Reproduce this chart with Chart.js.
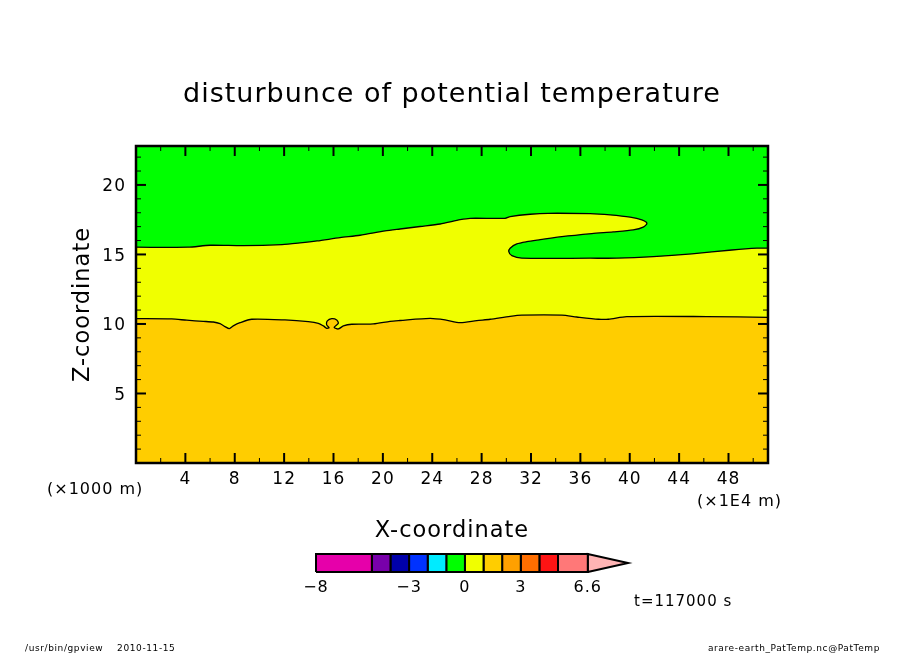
<!DOCTYPE html>
<html>
<head>
<meta charset="utf-8">
<title>disturbunce of potential temperature</title>
<script src="https://cdn.jsdelivr.net/npm/chart.js@4"></script>
<style>
  html, body { margin: 0; padding: 0; background: #fff; overflow: hidden; }
  #wrap { position: relative; width: 904px; height: 654px; }
  #main { position: absolute; left: 0; top: 0; }
  #bar { position: absolute; left: 290px; top: 540px; }
</style>
</head>
<body>
<div id="wrap">
  <canvas id="main" width="904" height="654"></canvas>
  <canvas id="bar" width="360" height="62"></canvas>
</div>
<script>
// Contour between the green and yellow bands (folds back on itself)
const upperX = [0, 4.21, 6.0, 8.67, 11.83, 13.29, 14.67, 16.53, 18.15, 20.18, 21.39, 23.01, 24.64, 26.26, 27.07, 29.9, 30.31, 31.93, 33.39, 36.79, 38.41, 40.03, 40.98, 41.39, 41.09, 40.28, 38.65, 36.93, 34.5, 32.74, 31.66, 30.85, 30.31, 30.2, 30.45, 31.26, 36.79, 38.95, 41.9, 45.03, 48.27, 50.3, 51.2];
const upperZ = [15.52, 15.52, 15.66, 15.63, 15.71, 15.83, 15.97, 16.21, 16.38, 16.69, 16.83, 17.01, 17.19, 17.5, 17.6, 17.6, 17.72, 17.89, 17.96, 17.93, 17.84, 17.68, 17.48, 17.24, 16.96, 16.76, 16.62, 16.5, 16.28, 16.06, 15.92, 15.76, 15.45, 15.2, 14.91, 14.73, 14.73, 14.73, 14.84, 15.04, 15.32, 15.45, 15.45];

// Contour between the yellow and orange bands (small curl near x=16)
const lowerX = [0, 2.89, 4.11, 5.45, 6.26, 6.81, 7.21, 7.56, 7.88, 8.43, 9.38, 12.07, 13.96, 14.77, 15.18, 15.45, 15.64, 15.45, 15.5, 15.86, 16.26, 16.39, 16.05, 16.39, 16.8, 17.48, 19.23, 20.58, 21.39, 23.82, 25.04, 26.26, 27.61, 28.69, 30.31, 31.26, 34.5, 35.71, 37.46, 38.27, 39.76, 46.25, 51.2];
const lowerZ = [10.38, 10.36, 10.27, 10.19, 10.14, 10.02, 9.81, 9.66, 9.86, 10.09, 10.34, 10.29, 10.17, 10.05, 9.86, 9.69, 9.73, 9.93, 10.22, 10.38, 10.29, 10.05, 9.76, 9.64, 9.86, 9.98, 10.0, 10.19, 10.25, 10.4, 10.29, 10.09, 10.24, 10.34, 10.55, 10.63, 10.63, 10.5, 10.34, 10.34, 10.53, 10.53, 10.48];

const xMax = 51.2;
const zMax = 22.8;
const xMajor = [4, 8, 12, 16, 20, 24, 28, 32, 36, 40, 44, 48];
const xMinor = [2, 6, 10, 14, 18, 22, 26, 30, 34, 38, 42, 46, 50];
const zMajor = [5, 10, 15, 20];
const zMinor = [1, 2, 3, 4, 6, 7, 8, 9, 11, 12, 13, 14, 16, 17, 18, 19, 21, 22];

// Colour bar
const levels = [-8, -5, -4, -3, -2, -1, 0, 1, 2, 3, 4, 5, 6.6];
const levelColors = ['#e600aa', '#7800aa', '#0000aa', '#0032ff', '#00ebff', '#00ff00', '#f0ff00', '#ffcd00', '#ffa000', '#ff6e00', '#ff1414', '#ff7878'];
const levelTicks = [-8, -3, 0, 3, 6.6];
const arrowTip = 8.76;
const arrowColor = '#ffb4b4';

const GREEN = '#00ff00';
const YELLOW = '#f0ff00';
const ORANGE = '#ffcd00';
const FONT = '"DejaVu Sans", sans-serif';
const CURVE = 0.25;

const toPoints = (xs, ys) => xs.map((x, i) => ({ x: x, y: ys[i] }));

// Close a contour down to the bottom of the plot. Doubled points keep the
// curve tension from bending the straight edges.
const downToBase = (points) => {
    const last = points[points.length - 1];
    const right = { x: xMax, y: 0 };
    const left = { x: 0, y: 0 };
    return points.concat([last, right, right, left, left, points[0]]);
};

const filled = (points, color, tension) => ({
    data: points, fill: 'shape', backgroundColor: color, tension: tension,
    borderWidth: 0, pointRadius: 0, showLine: true
});

const contour = (points) => ({
    data: points, fill: false, borderColor: '#000', borderWidth: 1.3, tension: CURVE,
    pointRadius: 0, showLine: true
});

// Ticks point inward on all four sides, frame goes on top
const framePlugin = {
    id: 'frame',
    afterDatasetsDraw(chart) {
        const ctx = chart.ctx;
        const a = chart.chartArea;
        const sx = chart.scales.x;
        const sz = chart.scales.y;
        const tick = (x1, y1, x2, y2, w) => {
            ctx.lineWidth = w;
            ctx.beginPath();
            ctx.moveTo(x1, y1);
            ctx.lineTo(x2, y2);
            ctx.stroke();
        };
        const xTicks = (vals, len, w) => vals.forEach(v => {
            const p = sx.getPixelForValue(v);
            tick(p, a.top, p, a.top + len, w);
            tick(p, a.bottom, p, a.bottom - len, w);
        });
        const zTicks = (vals, len, w) => vals.forEach(v => {
            const p = sz.getPixelForValue(v);
            tick(a.left, p, a.left + len, p, w);
            tick(a.right, p, a.right - len, p, w);
        });
        ctx.save();
        ctx.strokeStyle = '#000';
        xTicks(xMinor, 5, 1);
        zTicks(zMinor, 5, 1);
        xTicks(xMajor, 10, 2);
        zTicks(zMajor, 10, 2);
        ctx.lineWidth = 2.5;
        ctx.strokeRect(a.left, a.top, a.right - a.left, a.bottom - a.top);
        ctx.restore();
    }
};

const notes = [
    { text: '(×1000 m)', x: 47, y: 490, size: 16, align: 'left', spacing: '1px' },
    { text: '(×1E4 m)', x: 697, y: 502, size: 16, align: 'left', spacing: '1px' },
    { text: 't=117000 s', x: 634, y: 602, size: 15, align: 'left', spacing: '1px' },
    { text: '/usr/bin/gpview    2010-11-15', x: 25, y: 649, size: 9, align: 'left', spacing: '0.6px' },
    { text: 'arare-earth_PatTemp.nc@PatTemp', x: 880, y: 649, size: 9, align: 'right', spacing: '0.6px' }
];

const notesPlugin = {
    id: 'notes',
    afterDraw(chart) {
        const ctx = chart.ctx;
        ctx.save();
        ctx.fillStyle = '#000';
        ctx.textBaseline = 'middle';
        notes.forEach(n => {
            ctx.font = n.size + 'px ' + FONT;
            ctx.letterSpacing = n.spacing;
            ctx.textAlign = n.align;
            ctx.fillText(n.text, n.x, n.y);
        });
        ctx.restore();
    }
};

// Stroke font of the original is widely spaced
const spacingPlugin = {
    id: 'spacing',
    beforeDraw(chart) { chart.ctx.letterSpacing = '1px'; }
};

new Chart(document.getElementById('main'), {
    type: 'scatter',
    data: {
        datasets: [
            contour(toPoints(lowerX, lowerZ)),
            contour(toPoints(upperX, upperZ)),
            filled(downToBase(toPoints(lowerX, lowerZ)), ORANGE, CURVE),
            filled(downToBase(toPoints(upperX, upperZ)), YELLOW, CURVE),
            filled([{ x: 0, y: 0 }, { x: xMax, y: 0 }, { x: xMax, y: zMax }, { x: 0, y: zMax }], GREEN, 0)
        ]
    },
    options: {
        responsive: false,
        animation: false,
        devicePixelRatio: 1,
        layout: { padding: { left: 0, right: 0, top: 0, bottom: 109 } },
        plugins: {
            legend: { display: false },
            tooltip: { enabled: false },
            title: {
                display: true,
                text: 'disturbunce of potential temperature',
                color: '#000',
                font: { family: FONT, size: 27, weight: 'normal', lineHeight: 1 },
                padding: { top: 81, bottom: 38 }
            }
        },
        scales: {
            x: {
                type: 'linear',
                min: 0,
                max: xMax,
                grid: { display: false },
                border: { display: false },
                afterBuildTicks: s => { s.ticks = xMajor.map(v => ({ value: v })); },
                afterFit: s => { s.height = 82; },
                ticks: { color: '#000', padding: -2, maxRotation: 0, autoSkip: false, font: { family: FONT, size: 17 } },
                title: { display: true, text: 'X-coordinate', color: '#000', padding: 0, font: { family: FONT, size: 22.5, lineHeight: 1.2 } }
            },
            y: {
                type: 'linear',
                min: 0,
                max: zMax,
                grid: { display: false },
                border: { display: false },
                afterBuildTicks: s => { s.ticks = zMajor.map(v => ({ value: v })); },
                afterFit: s => { s.width = 136; },
                ticks: { color: '#000', padding: 2, labelOffset: 2, autoSkip: false, font: { family: FONT, size: 17 } },
                title: { display: true, text: 'Z-coordinate', color: '#000', padding: { top: 70, bottom: 0 }, font: { family: FONT, size: 22.5, lineHeight: 1.2 } }
            },
            // empty scale, keeps the right margin so the title stays centred on the page
            margin: {
                type: 'linear',
                position: 'right',
                grid: { display: false },
                border: { display: false },
                ticks: { display: false },
                afterFit: s => { s.width = 136; }
            }
        }
    },
    plugins: [framePlugin, notesPlugin, spacingPlugin]
});

// --- Colour bar ---
const box = (a, b) => [{ x: a, y: 0 }, { x: b, y: 0 }, { x: b, y: 1 }, { x: a, y: 1 }, { x: a, y: 0 }];

const barSets = levelColors.map((c, i) => ({
    data: box(levels[i], levels[i + 1]),
    fill: 'shape', backgroundColor: c, borderColor: '#000', borderWidth: 2,
    pointRadius: 0, showLine: true, clip: false
}));
const lastLevel = levels[levels.length - 1];
barSets.push({
    data: [{ x: lastLevel, y: 0 }, { x: arrowTip, y: 0.5 }, { x: lastLevel, y: 1 }, { x: lastLevel, y: 0 }],
    fill: 'shape', backgroundColor: arrowColor, borderColor: '#000', borderWidth: 2,
    pointRadius: 0, showLine: true, clip: false
});

new Chart(document.getElementById('bar'), {
    type: 'scatter',
    data: { datasets: barSets },
    options: {
        responsive: false,
        animation: false,
        devicePixelRatio: 1,
        layout: { padding: { left: 26, right: 22, top: 14, bottom: 0 } },
        plugins: { legend: { display: false }, tooltip: { enabled: false } },
        scales: {
            x: {
                type: 'linear',
                min: levels[0],
                max: arrowTip,
                grid: { display: false },
                border: { display: false },
                afterBuildTicks: s => { s.ticks = levelTicks.map(v => ({ value: v })); },
                afterFit: s => { s.height = 30; },
                ticks: {
                    color: '#000', padding: -2, maxRotation: 0, autoSkip: false,
                    font: { family: FONT, size: 16 },
                    callback: v => String(v).replace('-', '\u2212')
                }
            },
            y: { type: 'linear', min: 0, max: 1, display: false }
        }
    },
    plugins: [spacingPlugin]
});
</script>
</body>
</html>
